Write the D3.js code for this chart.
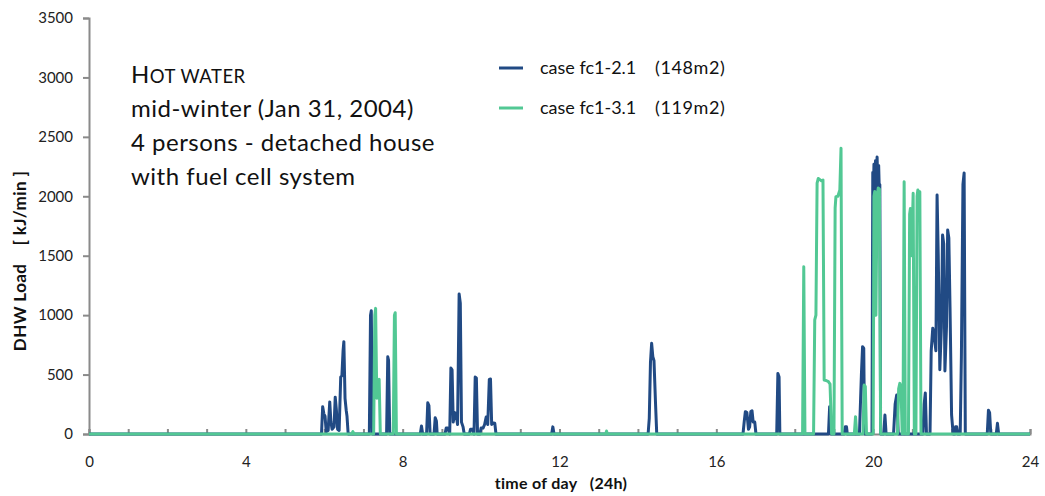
<!DOCTYPE html>
<html>
<head>
<meta charset="utf-8">
<script src="https://cdn.jsdelivr.net/npm/d3@7"></script>
<style>
  html, body { margin: 0; padding: 0; background: #fff; }
  svg { display: block; }
  text { white-space: pre; }
</style>
</head>
<body>
<svg id="chart" width="1045" height="496"></svg>
<script>
// ---- Data ----
const seriesNames = ["case fc1-2.1", "case fc1-3.1"];
const seriesAreas = ["(148m2)", "(119m2)"];
const seriesColors = ["#214a84", "#52c894"];

// case fc1-2.1 : time of day [h] and DHW load [kJ/min]
const blueTimes = [0,
  5.93, 5.96, 5.99, 6.02, 6.05, 6.10, 6.14, 6.17, 6.20, 6.25, 6.28, 6.31, 6.34, 6.38, 6.42, 6.45, 6.48, 6.50, 6.53, 6.56, 6.58, 6.61,
  7.15, 7.18, 7.20, 7.23,
  7.59, 7.62, 7.64, 7.67,
  8.45, 8.48, 8.51,
  8.61, 8.64, 8.67, 8.70,
  8.80, 8.83, 8.86, 8.88,
  9.08, 9.11, 9.15, 9.20, 9.23, 9.26, 9.29, 9.33, 9.36, 9.40, 9.44, 9.47, 9.50, 9.54, 9.57,
  9.70, 9.73, 9.78, 9.82, 9.85, 9.88, 9.91,
  9.97, 10.00, 10.05, 10.09, 10.13, 10.17, 10.21, 10.24, 10.27, 10.31, 10.35, 10.38,
  11.80, 11.83, 11.86,
  14.26, 14.29, 14.32, 14.35, 14.38, 14.41, 14.45, 14.48,
  16.68, 16.71, 16.74, 16.78, 16.82, 16.85, 16.88, 16.91, 16.94, 16.98, 17.01,
  17.54, 17.57, 17.60, 17.62,
  18.86, 18.89, 18.92,
  19.26, 19.29, 19.32, 19.34,
  19.65, 19.68, 19.70, 19.73, 19.76, 19.78,
  19.97, 19.99, 20.00, 20.02, 20.04, 20.06, 20.08, 20.10, 20.12, 20.14, 20.16, 20.17, 20.19,
  20.27, 20.30, 20.33,
  20.52, 20.56, 20.60, 20.64,
  21.27, 21.30, 21.33, 21.36,
  21.45, 21.48, 21.52, 21.55, 21.60, 21.63, 21.66, 21.70, 21.74, 21.77, 21.80, 21.83, 21.87, 21.90, 21.93, 21.96, 22.00, 22.04,
  22.08, 22.10, 22.13, 22.16,
  22.22, 22.25, 22.29, 22.32, 22.35,
  22.91, 22.94, 22.97, 23.00,
  23.14, 23.17, 23.20,
  24];
const blueValues = [0,
  0, 230, 170, 150, 20, 30, 270, 100, 40, 60, 310, 200, 40, 30, 480, 490, 700, 777, 300, 200, 150, 0,
  0, 1000, 1037, 0,
  0, 650, 620, 0,
  0, 67, 0,
  0, 263, 240, 0,
  0, 137, 110, 0,
  0, 50, 50, 0, 555, 540, 100, 180, 170, 80, 1178, 1100, 100, 60, 0,
  0, 40, 40, 0, 480, 470, 0,
  0, 50, 50, 80, 143, 80, 460, 463, 80, 93, 90, 0,
  0, 60, 0,
  0, 134, 600, 763, 650, 617, 250, 0,
  0, 100, 188, 180, 40, 60, 190, 196, 100, 100, 0,
  0, 510, 480, 0,
  0, 230, 0,
  0, 60, 60, 0,
  0, 300, 500, 735, 720, 0,
  0, 2200, 1900, 2270, 2000, 2300, 2050, 2330, 2100, 2260, 2000, 2100, 0,
  0, 160, 0,
  0, 250, 328, 0,
  0, 250, 345, 0,
  0, 700, 890, 850, 700, 2011, 1500, 540, 900, 1675, 1600, 530, 900, 1716, 1650, 1070, 160, 0,
  0, 60, 60, 0,
  0, 650, 2100, 2196, 0,
  0, 200, 180, 0,
  0, 90, 0,
  0];

// case fc1-3.1
const greenTimes = [0,
  6.70, 6.73, 6.76,
  7.26, 7.29, 7.31, 7.34, 7.37, 7.40, 7.43,
  7.76, 7.79, 7.81, 7.84,
  13.18, 13.20, 13.22,
  18.20, 18.23, 18.26,
  18.48, 18.51, 18.54, 18.57, 18.60, 18.64, 18.68, 18.72, 18.75, 18.80, 18.86, 18.90, 18.94,
  19.00, 19.03, 19.05, 19.10, 19.15, 19.18, 19.21,
  19.52, 19.55, 19.58,
  19.74, 19.77, 19.80, 19.83,
  20.00, 20.02, 20.04, 20.07, 20.10, 20.13, 20.16, 20.19,
  20.62, 20.65, 20.68, 20.71, 20.74,
  20.76, 20.79, 20.82,
  20.90, 20.93, 20.95, 20.98, 21.02, 21.05,
  21.09, 21.12, 21.14, 21.17, 21.19, 21.22,
  24];
const greenValues = [0,
  0, 20, 0,
  0, 1000, 1057, 300, 440, 460, 0,
  0, 1000, 1020, 0,
  0, 25, 0,
  0, 1408, 0,
  0, 960, 1000, 2110, 2150, 2140, 2130, 2137, 454, 450, 440, 420, 0,
  0, 1900, 1997, 2000, 2053, 2404, 0,
  0, 146, 0,
  0, 412, 400, 0,
  0, 2000, 2040, 1000, 2000, 2070, 2060, 0,
  0, 380, 426, 400, 0,
  0, 2123, 0,
  0, 1850, 1898, 1500, 2025, 0,
  0, 2000, 2053, 2000, 2039, 0,
  0];

const yTickValues = [0, 500, 1000, 1500, 2000, 2500, 3000, 3500];
const xLabelValues = [0, 4, 8, 12, 16, 20, 24];
const xMinorValues = d3.range(0, 25, 1);
const titleLines = ["mid-winter (Jan 31, 2004)", "4 persons - detached house", "with fuel cell system"];
const xTitle = "time of day   (24h)";
const yTitle = "DHW Load    [ kJ/min ]";

// ---- Layout ----
const svg = d3.select("#chart");
const font = "Lato, 'Open Sans', sans-serif";
const x = d3.scaleLinear().domain([0, 24]).range([89, 1030]);
const y = d3.scaleLinear().domain([0, 3500]).range([434, 18]);
const axisColor = "#8a8a8a";

// Y axis
const yAxis = svg.append("g").attr("transform", `translate(${x(0)},0)`)
  .call(d3.axisLeft(y).tickValues(yTickValues).tickSize(6).tickPadding(10).tickFormat(d3.format("d")));
yAxis.select(".domain").attr("stroke", axisColor).attr("stroke-width", 2);
yAxis.selectAll(".tick line").attr("stroke", axisColor).attr("stroke-width", 2);
yAxis.selectAll(".tick text").attr("font-family", font).attr("font-size", 15).attr("fill", "#222");

// X axis: hourly inner ticks
const xMinor = svg.append("g").attr("transform", `translate(0,${y(0)})`)
  .call(d3.axisBottom(x).tickValues(xMinorValues).tickSize(-5).tickFormat(""));
xMinor.select(".domain").attr("stroke", axisColor).attr("stroke-width", 2);
xMinor.selectAll(".tick line").attr("stroke", axisColor).attr("stroke-width", 2);

// X labels
const xLab = svg.append("g").attr("transform", `translate(0,${y(0)})`)
  .call(d3.axisBottom(x).tickValues(xLabelValues).tickSize(0).tickPadding(22).tickFormat(d3.format("d")));
xLab.select(".domain").remove();
xLab.selectAll(".tick text").attr("font-family", font).attr("font-size", 15).attr("fill", "#222");

// Lines
const line = d3.line().x(d => x(d[0])).y(d => y(d[1]));
const blueData = blueTimes.map((t, i) => [t, blueValues[i]]);
const greenData = greenTimes.map((t, i) => [t, greenValues[i]]);
svg.append("path").datum(blueData).attr("d", line)
  .attr("fill", "none").attr("stroke", seriesColors[0]).attr("stroke-width", 3).attr("stroke-linejoin", "round");
svg.append("path").datum(greenData).attr("d", line)
  .attr("fill", "none").attr("stroke", seriesColors[1]).attr("stroke-width", 3).attr("stroke-linejoin", "round");

// Axis titles
svg.append("text").attr("x", 561).attr("y", 489).attr("text-anchor", "middle")
  .attr("font-family", font).attr("font-weight", "bold").attr("font-size", 16).attr("letter-spacing", 0.3).attr("fill", "#111")
  .text(xTitle);
svg.append("text").attr("transform", "translate(26,261) rotate(-90)").attr("text-anchor", "middle")
  .attr("font-family", font).attr("font-weight", "bold").attr("font-size", 17).attr("letter-spacing", 0.4).attr("fill", "#111")
  .text(yTitle);

// Chart title block
const tx = 131;
const t1 = svg.append("text").attr("x", tx).attr("y", 83)
  .attr("font-family", font).attr("font-size", 24).attr("letter-spacing", 0.5).attr("fill", "#111");
t1.append("tspan").text("H");
t1.append("tspan").attr("font-size", 18.5).text("OT WATER");
titleLines.forEach((s, i) => {
  svg.append("text").attr("x", tx).attr("y", 117 + i * 34)
    .attr("font-family", font).attr("font-size", 24).attr("letter-spacing", 0.5).attr("fill", "#111").text(s);
});

// Legend
const legY = [68, 108];
seriesNames.forEach((n, i) => {
  svg.append("line").attr("x1", 499).attr("x2", 523).attr("y1", legY[i]).attr("y2", legY[i])
    .attr("stroke", seriesColors[i]).attr("stroke-width", 3);
  svg.append("text").attr("x", 540).attr("y", legY[i] + 6)
    .attr("font-family", font).attr("font-size", 18).attr("fill", "#111").text(n);
  svg.append("text").attr("x", 655).attr("y", legY[i] + 6)
    .attr("font-family", font).attr("font-size", 18).attr("letter-spacing", 0.6).attr("fill", "#111").text(seriesAreas[i]);
});
</script>
</body>
</html>
